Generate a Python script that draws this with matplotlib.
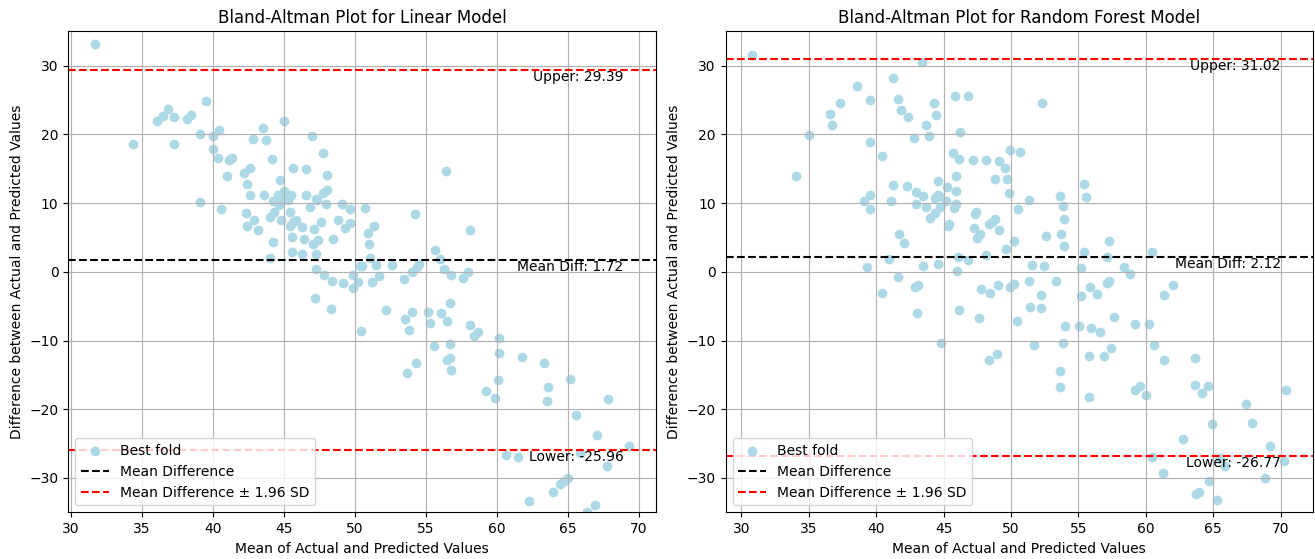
import matplotlib
matplotlib.use("Agg")
import matplotlib.pyplot as plt
import numpy as np

# Linear model: mean of (actual, predicted) and difference actual - predicted
lin_mean = [31.7, 34.37, 36.06, 36.46, 36.86, 37.3, 37.3, 38.2, 38.47, 39.53, 39.13, 40.0, 40.42, 40.0,
            40.35, 41.15, 41.36, 41.0, 42.18, 42.6, 42.42, 42.8, 43.54, 43.75, 44.2, 45.02, 46.97, 47.77,
            45.63, 46.57, 48.07, 44.74, 48.03, 47.77, 42.6, 43.6, 44.56, 44.98, 45.49, 46.55, 47.25,
            39.13, 40.61, 42.35, 42.87, 42.39, 43.15, 44.23, 44.79, 44.67, 44.32, 44.01, 44.79, 45.4,
            45.26, 45.4, 45.87, 45.63, 45.45, 46.29, 46.85, 47.32, 47.96, 47.14, 47.61, 48.78, 49.06,
            49.63, 49.63, 49.3, 45.54, 46.43, 47.42, 47.06, 48.43, 44.23, 45.54, 46.29, 47.28, 44.01,
            47.23, 47.8, 48.36, 49.15, 49.86, 49.86, 50.19, 50.37, 47.16, 48.31, 50.42,
            50.7, 54.25, 51.36, 50.89, 50.99, 58.12, 55.65, 55.96, 51.06, 50.49, 51.5, 52.58, 54.53,
            54.37, 53.99, 53.43, 51.71, 51.22, 56.27, 56.78, 57.63, 57.94, 56.71, 52.18, 53.52, 54.04,
            53.78, 55.12, 55.26, 56.06, 56.46, 58.08, 58.64, 58.36, 60.14, 60.14, 55.59, 56.71, 61.74,
            63.34, 54.32, 53.64, 56.46, 56.69, 56.78, 60.05, 59.25, 59.86, 63.61, 63.54, 65.14, 67.8,
            65.54, 67.02, 69.3, 65.82, 60.66, 61.48, 67.75, 64.98, 64.7, 64.41, 63.94, 62.27, 66.88,
            66.31, 56.39]
lin_diff = [33.1, 18.55, 21.9, 22.7, 23.7, 22.5, 18.55, 22.3, 22.85, 24.9, 20.0, 19.8, 20.7, 17.9,
            16.6, 16.2, 16.5, 13.9, 14.4, 15.1, 12.75, 19.4, 20.9, 19.2, 16.4, 21.9, 19.8, 17.3,
            15.1, 14.9, 14.1, 13.3, 11.9, 11.4, 11.2, 11.2, 11.2, 11.7, 11.2, 11.2, 10.6,
            10.1, 9.2, 8.6, 7.6, 6.7, 6.1, 10.3, 10.9, 9.7, 8.7, 8.0, 7.6, 11.0,
            10.4, 8.7, 7.6, 7.2, 6.7, 6.5, 9.5, 10.5, 9.8, 6.2, 7.2, 7.5, 9.9,
            9.2, 7.1, 6.4, 5.0, 4.8, 4.7, 4.0, 4.8, 4.35, 2.95, 2.6, 2.6, 2.0,
            0.4, -0.5, -1.3, -1.7, -2.3, -0.5, -1.45, 0.8, -3.8, -5.4, -8.6,
            9.3, 8.4, 6.7, 5.7, 4.0, 6.1, 3.2, 1.9, 2.0, 0.8, 0.95, 0.95, 1.1,
            0.7, -0.05, -1.1, -0.6, -1.45, 0.35, -0.5, -0.95, -0.05, -4.5, -5.55, -6.9, -5.85,
            -8.45, -5.8, -7.5, -6.05, -7.1, -7.8, -8.75, -9.4, -9.7, -11.8, -10.8, -10.5, -12.4,
            -13.3, -13.3, -14.7, -12.9, -12.6, -14.3, -15.8, -17.4, -18.3, -16.75, -18.8, -15.65, -18.45,
            -20.8, -23.8, -25.3, -26.3, -26.6, -26.95, -28.3, -30.05, -30.4, -30.95, -31.97, -33.3, -33.95,
            -35.0, 14.7]

# Random forest model
rf_mean = [30.81, 34.04, 35.01, 36.59, 36.74, 37.28, 38.61, 39.56, 39.56, 40.44, 41.21, 41.65, 41.85,
           42.37, 43.41, 44.27, 44.47, 43.7, 42.84, 43.9, 45.87, 46.84, 46.19, 45.67, 46.15, 47.21,
           48.17, 49.11, 49.58, 49.9, 50.69, 45.95, 44.59, 45.26, 45.95, 41.28, 42.3, 42.93, 43.48,
           48.84, 49.73, 49.82, 39.56, 44.59,
           39.13, 39.56, 41.13, 42.96, 43.7, 44.34, 44.64, 44.76, 45.16, 44.34, 43.97, 45.95, 45.75,
           45.4, 45.3, 47.3, 47.41, 47.23, 47.73, 47.48, 48.37, 48.59, 48.84, 49.11, 50.49, 50.24,
           49.6, 48.17, 41.7, 42.05, 40.96, 39.33, 43.48, 44.59, 46.07, 46.84, 46.0, 41.65, 42.91,
           43.08, 40.44, 47.78, 48.41, 49.04, 49.95, 50.19, 42.99, 46.15, 47.63, 50.44, 44.79, 48.93,
           48.37,
           51.3, 53.6, 55.53, 53.82, 53.9, 52.61, 53.73, 53.9, 57.26, 55.38, 57.11, 60.44, 51.56,
           52.47, 55.21, 58.39, 58.84, 51.3, 53.33, 55.87, 55.21, 56.41, 57.11, 57.3, 62.04, 61.33,
           52.24, 51.43, 52.24, 54.04, 55.01, 55.93, 56.61, 57.67, 59.23, 60.22, 51.7, 53.82, 57.41,
           60.61, 55.82, 56.86, 61.36, 63.67, 52.32, 55.38,
           53.65, 53.6, 55.82, 59.23, 59.58, 60.0, 63.67, 64.17, 64.64, 67.41, 70.42, 67.9, 64.91,
           62.74, 69.21, 60.44, 65.5, 65.87, 70.24, 61.26, 68.86, 64.71, 63.73, 63.93, 65.3]
rf_diff = [31.55, 14.0, 19.9, 22.95, 21.3, 24.5, 27.1, 25.0, 18.95, 16.9, 28.2, 25.2, 23.5,
           22.6, 30.6, 24.5, 22.8, 21.3, 19.5, 19.7, 25.6, 25.6, 20.35, 17.3, 16.4, 16.2,
           16.3, 16.1, 15.1, 17.7, 17.4, 13.9, 13.15, 12.4, 11.7, 12.6, 12.5, 11.65, 11.1,
           13.45, 13.45, 11.5, 11.15, 11.15,
           10.3, 9.2, 10.3, 9.9, 9.4, 10.8, 11.1, 9.5, 10.3, 8.55, 7.8, 9.9, 9.3,
           7.0, 6.6, 8.45, 8.7, 6.4, 5.55, 4.85, 7.0, 7.25, 7.75, 6.15, 9.2, 4.5,
           3.25, 2.4, 5.45, 4.2, 1.85, 0.7, 0.85, 1.2, 2.1, 1.7, 0.1, -0.8, -2.2,
           -1.9, -3.15, -2.45, -3.15, -1.9, -2.2, -1.75, -6.0, -5.55, -6.65, -7.1, -10.3, -11.9,
           -12.9,
           10.5, 11.1, 10.95, 9.55, 7.65, 5.2, 5.45, 3.8, 4.5, 2.9, 2.2, 2.85, 1.05,
           0.9, 0.5, 0.7, -0.35, -1.4, -1.4, -2.25, -3.5, -3.25, -1.7, -1.3, -1.9, -3.4,
           -3.4, -5.15, -5.25, -7.95, -7.9, -8.2, -8.8, -6.55, -7.55, -7.55, -10.6, -10.3, -11.05,
           -10.7, -12.2, -12.2, -12.8, -12.55, 24.6, 12.75,
           -14.5, -16.7, -18.25, -17.25, -16.65, -17.9, -16.5, -17.6, -16.6, -19.2, -17.2, -22.0, -22.2,
           -24.35, -25.35, -27.0, -27.05, -28.25, -27.5, -29.3, -30.0, -30.4, -32.3, -32.1, -33.2]

# mean difference and limits of agreement
lin_stats = (1.72, 29.39, -25.96)
rf_stats = (2.12, 31.02, -26.77)

fig, axes = plt.subplots(1, 2, figsize=(13.15, 5.59), dpi=100)
plt.subplots_adjust(left=0.0519, right=0.9985, bottom=0.0835, top=0.944, wspace=0.119)

panels = [(axes[0], lin_mean, lin_diff, lin_stats, 'Bland-Altman Plot for Linear Model'),
          (axes[1], rf_mean, rf_diff, rf_stats, 'Bland-Altman Plot for Random Forest Model')]

for ax, m, d, stats, title in panels:
    md, upper, lower = stats
    ax.scatter(m, d, color='lightblue', label='Best fold')
    ax.axhline(md, color='black', linestyle='--', label='Mean Difference')
    ax.axhline(upper, color='red', linestyle='--', label='Mean Difference ± 1.96 SD')
    ax.axhline(lower, color='red', linestyle='--')
    trans = ax.get_yaxis_transform()
    ax.text(0.945, upper, f'Upper: {upper:.2f}', transform=trans, ha='right', va='top')
    ax.text(0.945, md, f'Mean Diff: {md:.2f}', transform=trans, ha='right', va='top')
    ax.text(0.945, lower, f'Lower: {lower:.2f}', transform=trans, ha='right', va='top')
    ax.set_ylim(-35, 35)
    ax.set_title(title)
    ax.set_xlabel('Mean of Actual and Predicted Values')
    ax.set_ylabel('Difference between Actual and Predicted Values')
    ax.legend(loc='lower left')
    ax.grid(True)

plt.savefig('out.png')
